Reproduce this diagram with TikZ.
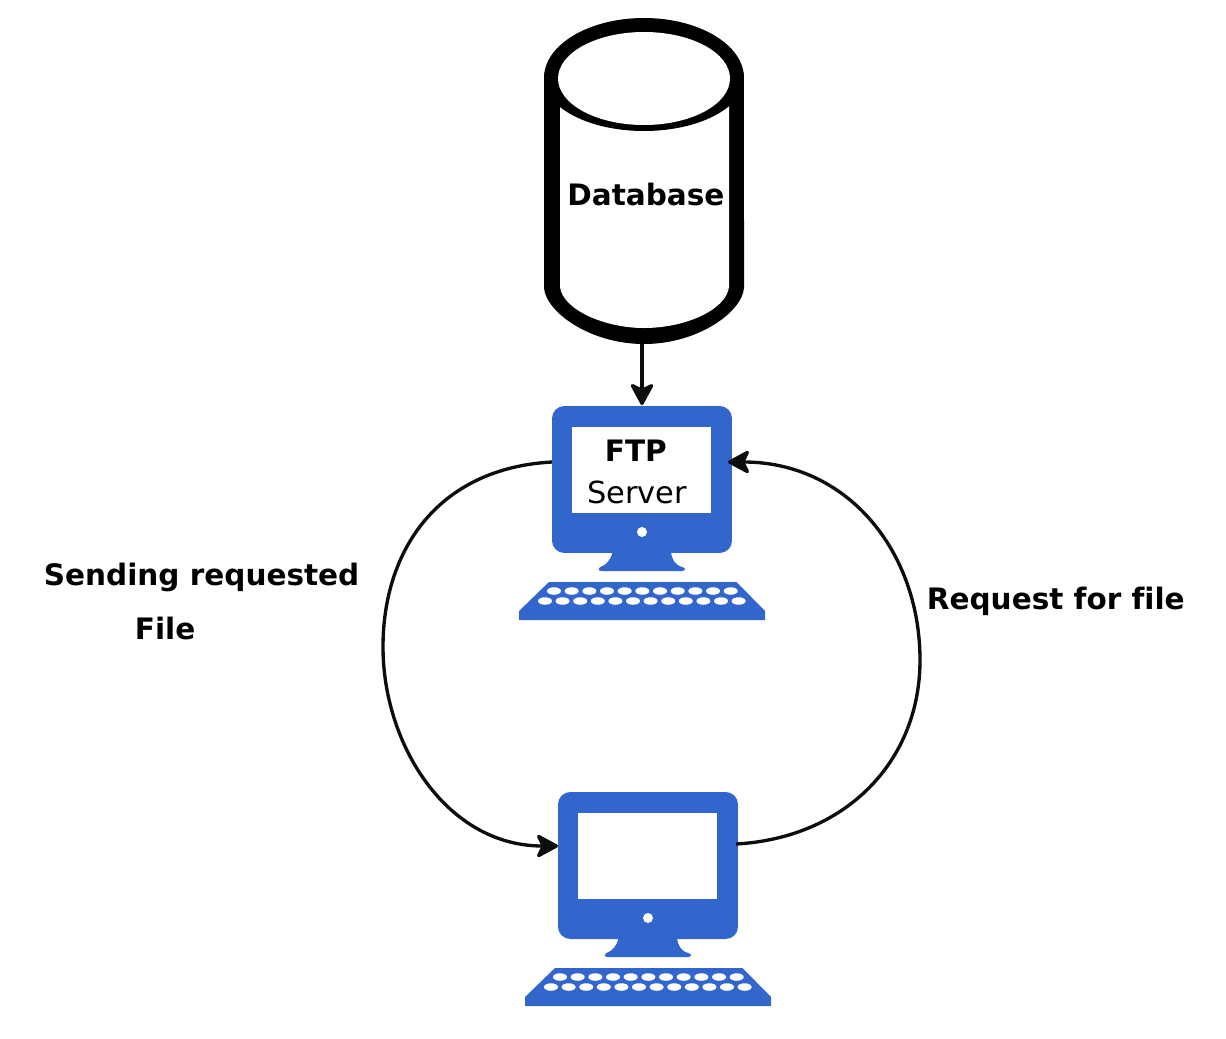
\documentclass[tikz,border=0pt]{standalone}
\usepackage{fontspec}
\setmainfont[Ligatures=NoCommon]{DejaVu Sans}
\usetikzlibrary{arrows.meta}
\definecolor{pcblue}{HTML}{3366CC}
\newcommand{\labelfont}{\fontsize{16.8}{20}\selectfont}
\newcommand{\plainfont}{\fontsize{17.3}{20}\selectfont}
\newcommand{\computer}[3]{%
  \begin{scope}[shift={(#2,#3)}]
    \node[monitor] (#1) at (642,479.5) {};
    \node[pcscreen] (#1screen) at (641.5,470) {};
    \node[pcdot] (#1dot) at (642,532) {};
    \fill[pcblue] (612.5,552) .. controls (611,560) and (606,565) .. (600.5,567)
      .. controls (598,568.5) and (598,571) .. (602,571) -- (682,571)
      .. controls (686,571) and (686,567.5) .. (682,567)
      .. controls (677,566) and (672,561) .. (671,552) -- cycle;
    \fill[pcblue] (549,582) -- (736.5,582) -- (765,611) -- (765,620) -- (519,620) -- (519,611) -- cycle;
    \foreach \k in {0,...,10} \fill[white] ({554+17.67*\k},591) ellipse [x radius=0.14cm, y radius=0.075cm];
    \foreach \k in {0,...,11} \fill[white] ({545+17.6*\k},601) ellipse [x radius=0.14cm, y radius=0.075cm];
  \end{scope}}
\tikzset{
  x=0.02cm, y=-0.02cm,
  monitor/.style={fill=pcblue, rounded corners=7pt, minimum width=3.6cm, minimum height=2.94cm, inner sep=0pt, outer sep=0pt},
  pcscreen/.style={fill=white, minimum width=2.78cm, minimum height=1.72cm, inner sep=0pt, outer sep=0pt},
  pcdot/.style={fill=white, circle, minimum size=0.2cm, inner sep=0pt},
  bold label/.style={font=\labelfont\bfseries, anchor=base west, inner sep=0pt},
  plain label/.style={font=\plainfont, anchor=base west, inner sep=0pt},
  connector/.style={line width=1.9pt, black!95, -{Stealth[inset=3.5pt,length=14pt,width=15pt,round]}},
}
\begin{document}
\begin{tikzpicture}
  \useasboundingbox[fill=white] (0,0) rectangle (1226,1038);
  % database cylinder
  \fill[black] (544,78) arc[start angle=180,end angle=0,x radius=2cm,y radius=1.2cm]
    -- (744,288) .. controls (742,312) and (698,344) .. (644,344)
    .. controls (590,344) and (546,312) .. (544,288) -- cycle;
  \fill[white] (560,78) -- (729,78) -- (729,287)
    .. controls (726,310) and (685,328) .. (644,328)
    .. controls (605,328) and (563,310) .. (560,287) -- cycle;
  \fill[black] (644,78.5) ellipse [x radius=2cm, y radius=1.05cm];
  \fill[white] (644,78.5) ellipse [x radius=1.72cm, y radius=0.93cm];
  \node[bold label] (dblabel) at (567,205) {Database};
  \coordinate (dbout) at (642,344);
  \coordinate (ftpin) at (642,405);
  % computers
  \computer{ftp}{0}{0}
  \computer{client}{6}{386}
  \node[bold label] (ftplabel) at (604.5,461) {FTP};
  \node[plain label] (serverlabel) at (587,503) {Server};
  \node[bold label] (sendlabel) at (43.5,585) {Sending requested};
  \node[bold label] (filelabel) at (134.5,639) {File};
  \node[bold label] (reqlabel) at (926.5,609) {Request for file};
  % connectors
  \coordinate (ftpleft) at (552,462);
  \coordinate (ftpright) at (728,462);
  \coordinate (clientleft) at (558,846);
  \coordinate (clientright) at (736,844);
  \draw[connector] (dbout) -- (ftpin);
  \draw[connector] (ftpleft) .. controls (440,468) and (383,548) .. (383,647)
    .. controls (383,745) and (447,846) .. (clientleft);
  \draw[connector] (clientright) .. controls (845,838) and (920,762) .. (920,660)
    .. controls (920,552) and (848,462) .. (ftpright);
\end{tikzpicture}
\end{document}
